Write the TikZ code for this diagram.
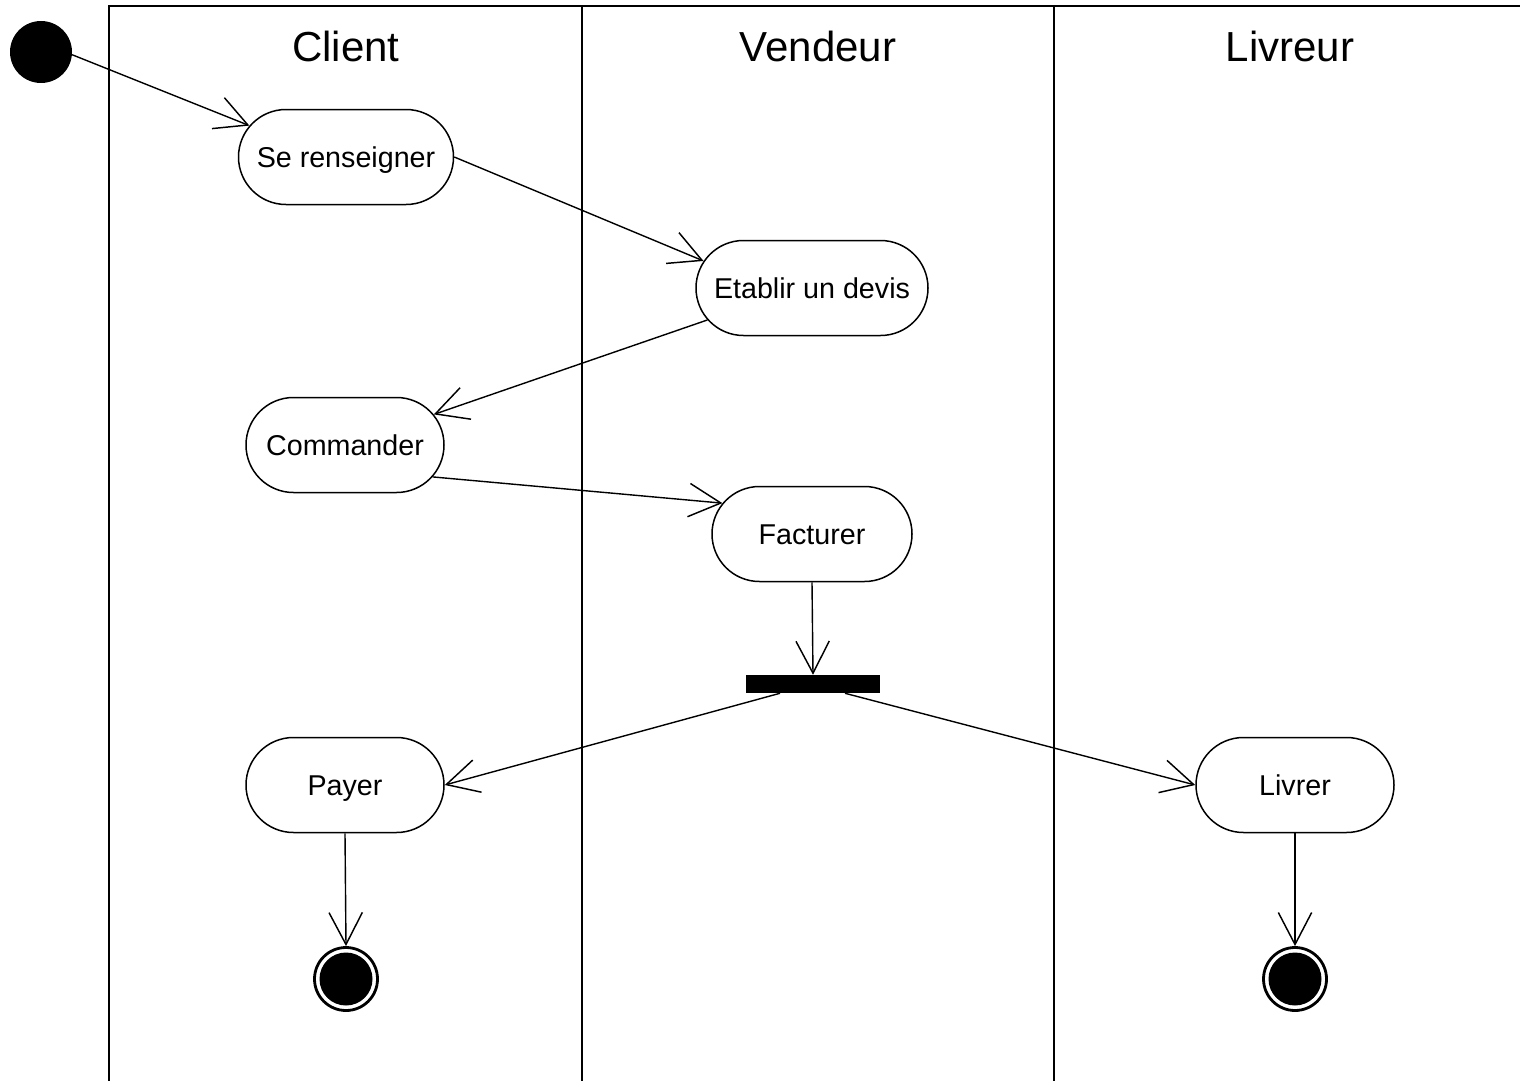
\documentclass[tikz,border=0pt]{standalone}
\usepackage{fontspec}
\setmainfont{Liberation Sans}
\usetikzlibrary{shapes.misc,arrows.meta,calc}
\newdimen\px \px=0.75pt
\begin{document}
\begin{tikzpicture}[x=0.75pt,y=-0.75pt,
  lane/.style={line width=2.4\px, line cap=rect},
  act/.style={rounded rectangle, draw, line width=1.5\px, minimum height=95\px, inner sep=0pt,
    font=\fontsize{21.5}{25}\selectfont, text height=15.4pt, text depth=0pt},
  title/.style={font=\fontsize{31.5}{36}\selectfont},
  flow/.style={line width=1.4\px, -{Straight Barb[length=24pt,width=25pt,line width=1.1pt]}},
  finalst/.style={circle, draw, line width=2.8\px, minimum size=63\px, inner sep=0pt, fill=white},
]
\useasboundingbox (0,0) rectangle (1520,1081);
% swimlanes
\draw[lane] (109,1090) -- (109,6) -- (1530,6);
\draw[lane] (582,6) -- (582,1090);
\draw[lane] (1054,6) -- (1054,1090);
\node[title] (tc) at (346,46) {Client};
\node[title] (tv) at (818,46) {Vendeur};
\node[title] (tl) at (1290,46) {Livreur};
% nodes
\node[circle, fill, minimum size=62\px, inner sep=0pt] (start) at (41,52) {};
\node[act, minimum width=215\px] (se) at (346,157) {Se renseigner};
\node[act, minimum width=232\px] (devis) at (812,288) {Etablir un devis};
\node[act, minimum width=198\px] (cmd) at (345,445) {Commander};
\node[act, minimum width=200\px] (fact) at (812,534) {Facturer};
\node[fill, minimum width=134\px, minimum height=18\px, inner sep=0pt] (bar) at (813,684) {};
\node[act, minimum width=198\px] (payer) at (345,785) {Payer};
\node[act, minimum width=198\px] (livrer) at (1295,785) {Livrer};
\node[finalst] (f1) at (346,979) {};
\fill (f1.center) circle[radius=26.5];
\node[finalst] (f2) at (1295,979) {};
\fill (f2.center) circle[radius=26.5];
% flows
\draw[flow] (start.-5) -- (se.162);
\draw[flow] (se.east) -- (devis.166);
\draw[flow] (devis.197) -- (cmd.19);
\draw[flow] (cmd.-20) -- (fact.161);
\draw[flow] (fact.south) -- (bar.north);
\draw[flow] ($(bar.south)+(-33,0)$) -- (payer.east);
\draw[flow] ($(bar.south)+(32,0)$) -- (livrer.west);
\draw[flow] (payer.south) -- (f1.north);
\draw[flow] (livrer.south) -- (f2.north);
\end{tikzpicture}
\end{document}
